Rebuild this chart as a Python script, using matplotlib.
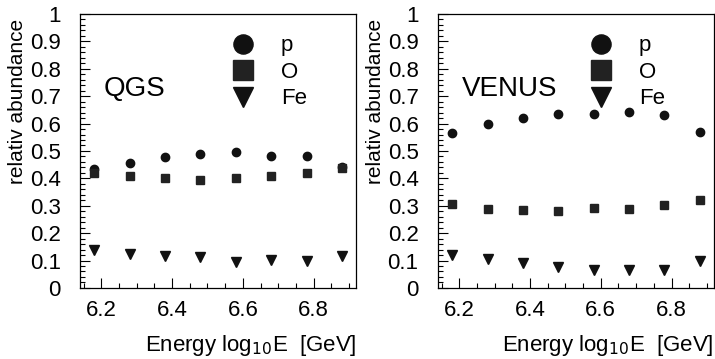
import matplotlib.pyplot as plt
from matplotlib.ticker import MultipleLocator

plt.rcParams['font.family'] = ['Liberation Sans', 'DejaVu Sans']

energy = [6.18, 6.28, 6.38, 6.48, 6.58, 6.68, 6.78, 6.88]

qgs_p = [0.433, 0.457, 0.479, 0.488, 0.497, 0.483, 0.481, 0.44]
qgs_o = [0.418, 0.41, 0.40, 0.395, 0.40, 0.41, 0.42, 0.437]
qgs_fe = [0.137, 0.125, 0.118, 0.112, 0.094, 0.102, 0.10, 0.115]

venus_p = [0.565, 0.60, 0.62, 0.634, 0.635, 0.644, 0.632, 0.571]
venus_o = [0.306, 0.288, 0.284, 0.279, 0.29, 0.288, 0.303, 0.322]
venus_fe = [0.119, 0.104, 0.092, 0.077, 0.065, 0.065, 0.066, 0.10]

panels = [("QGS", qgs_p, qgs_o, qgs_fe), ("VENUS", venus_p, venus_o, venus_fe)]

fig = plt.figure(figsize=(7.15, 3.59), dpi=100)
lefts = [0.112, 0.6126]

for left, (name, p, o, fe) in zip(lefts, panels):
    ax = fig.add_axes([left, 0.198, 0.386, 0.763])
    ax.plot(energy, p, 'o', color='#111111', ms=6, label='p')
    ax.plot(energy, o, 's', color='#222222', ms=6, label='O')
    ax.plot(energy, fe, 'v', color='#111111', ms=6.5, label='Fe')

    ax.set_xlim(6.14, 6.92)
    ax.set_ylim(0, 1)
    ax.xaxis.set_major_locator(MultipleLocator(0.2))
    ax.xaxis.set_minor_locator(MultipleLocator(0.05))
    ax.yaxis.set_minor_locator(MultipleLocator(0.02))
    ax.set_yticks([0, 0.1, 0.2, 0.3, 0.4, 0.5, 0.6, 0.7, 0.8, 0.9, 1])
    ax.set_yticklabels(['0', '0.1', '0.2', '0.3', '0.4', '0.5', '0.6',
                        '0.7', '0.8', '0.9', '1'])
    ax.tick_params(which='both', direction='in', top=False, right=False,
                   labelsize=16, width=0.8)
    ax.tick_params(which='major', length=7)
    ax.tick_params(which='minor', length=3.5)
    ax.tick_params(axis='y', pad=14)
    ax.tick_params(axis='x', pad=9)
    for s in ax.spines.values():
        s.set_linewidth(0.9)

    ax.set_ylabel('relativ abundance', fontsize=15)
    ax.yaxis.set_label_coords(-0.192, 0.68)
    ax.set_xlabel('Energy log$_{10}$E  [GeV]', fontsize=16, loc='right',
                  labelpad=8)
    ax.text(0.085, 0.725, name, transform=ax.transAxes, fontsize=20,
            ha='left', va='center')
    ax.legend(loc='upper left', bbox_to_anchor=(0.47, 0.995), frameon=False,
              markerscale=2.3, fontsize=16, handletextpad=1.1,
              labelspacing=0.25, handlelength=1.2)

plt.savefig('out.png', dpi=100)
